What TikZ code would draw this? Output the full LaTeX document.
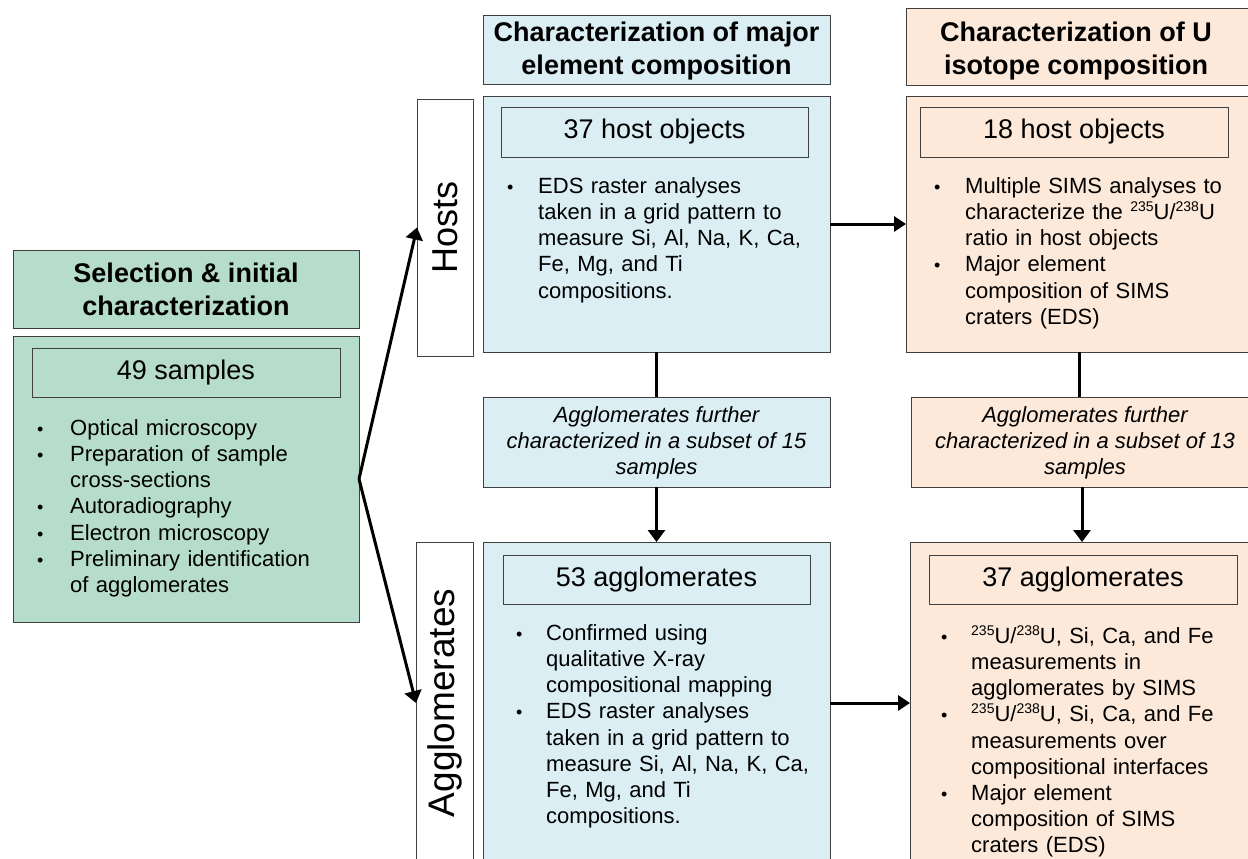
\documentclass[tikz,border=0pt]{standalone}
\usepackage{fontspec}
\setmainfont{Liberation Sans}
\usetikzlibrary{arrows.meta,fit}
\definecolor{grn}{HTML}{B6DCCB}
\definecolor{blu}{HTML}{DAEEF3}
\definecolor{pch}{HTML}{FDE9D9}
\definecolor{bord}{HTML}{404040}
\newlength{\bulind}
\newcommand{\bul}[1]{\par\noindent\hangindent=\bulind\hangafter=1\makebox[\bulind][l]{\strut{\fontsize{18}{18}\selectfont\textbullet}}#1}
\newcommand{\sups}[1]{\raisebox{0.36em}{\fontsize{14}{14}\selectfont #1}}
\tikzset{
  box/.style={draw=bord, line width=1pt, inner sep=0pt, outer sep=0pt},
  ttl/.style={font=\fontsize{27}{33}\selectfont\bfseries, align=center, inner sep=0pt},
  cnt/.style={font=\fontsize{27}{33}\selectfont, align=center, inner sep=0pt},
  note/.style={font=\fontsize{22}{26.3}\selectfont\itshape, align=center, inner sep=0pt},
  bl/.style={anchor=north west, inner sep=0pt, align=left, font=\fontsize{22}{26.2}\selectfont},
  lab/.style={rotate=90, inner sep=0pt},
  arr/.style={line width=3pt, -{Triangle[length=12pt,width=17pt]}},
  harr/.style={line width=3pt, -{Triangle[length=12pt,width=15pt]}},
  ln/.style={line width=3pt}
}
\begin{document}
\begin{tikzpicture}[x=1pt,y=-1pt]
\clip (0,0) rectangle (1248,859);
\fill[white] (0,0) rectangle (1248,859);
% left column
\node[box, fill=grn, fit={(13,250) (359,328)}] (seltitle) {};
\node[ttl] (seltitletxt) at (seltitle.center) {Selection \& initial\\characterization};
\node[box, fill=grn, fit={(13,336) (359,622)}] (selmain) {};
\node[box, fill=grn, fit={(32,348) (340,397)}] (sel49) {};
\node[cnt] (sel49txt) at (sel49.center) {49 samples};
\node[bl, text width=320pt] (seltxt) at (37,408.8) {\setlength{\bulind}{33pt}%
\bul{Optical microscopy}%
\bul{Preparation of sample\newline cross-sections}%
\bul{Autoradiography}%
\bul{Electron microscopy}%
\bul{Preliminary identification\newline of agglomerates}\par};
% labels
\node[box, fill=white, fit={(417,99) (473,356)}] (hostslab) {};
\node[lab, font=\fontsize{36}{40}\selectfont] (hoststxt) at (hostslab.center) {Hosts};
\node[box, fill=white, fit={(416,542) (473,864)}] (agglab) {};
\node[lab, font=\fontsize{37}{40}\selectfont] (aggtxt) at (agglab.center) {Agglomerates};
% middle column
\node[box, fill=blu, fit={(483,16) (830,85)}] (midtitle) {};
\node[ttl] (midtitletxt) at (656.5,51) {Characterization of major\\element composition};
\node[box, fill=blu, fit={(483,96) (830,352)}] (midhost) {};
\node[box, fill=blu, fit={(501,107) (808,157)}] (mid37) {};
\node[cnt] (mid37txt) at (mid37.center) {37 host objects};
\node[bl, text width=320pt] (midhosttxt) at (507,166.8) {\setlength{\bulind}{31pt}%
\bul{EDS raster analyses\newline taken in a grid pattern to\newline measure Si, Al, Na, K, Ca,\newline Fe, Mg, and Ti\newline compositions.}\par};
\node[box, fill=blu, fit={(483,397) (830,487)}] (midnote) {};
\node[note] (midnotetxt) at (656.5,443) {Agglomerates further\\characterized in a subset of 15\\samples};
\node[box, fill=blu, fit={(483,542) (830,864)}] (midagg) {};
\node[box, fill=blu, fit={(503,555) (810,604)}] (mid53) {};
\node[cnt] (mid53txt) at (mid53.center) {53 agglomerates};
\node[bl, text width=320pt] (midaggtxt) at (516,613.8) {\setlength{\bulind}{30pt}%
\bul{Confirmed using\newline qualitative X-ray\newline compositional mapping}%
\bul{EDS raster analyses\newline taken in a grid pattern to\newline measure Si, Al, Na, K, Ca,\newline Fe, Mg, and Ti\newline compositions.}\par};
% right column
\node[box, fill=pch, fit={(906,9) (1252,86)}] (rtitle) {};
\node[ttl] (rtitletxt) at (1076,51) {Characterization of U\\isotope composition};
\node[box, fill=pch, fit={(906,96) (1252,352)}] (rhost) {};
\node[box, fill=pch, fit={(920,107) (1228,157)}] (r18) {};
\node[cnt] (r18txt) at (r18.center) {18 host objects};
\node[bl, text width=320pt] (rhosttxt) at (934,166.8) {\setlength{\bulind}{31pt}%
\bul{Multiple SIMS analyses to\newline characterize the \sups{235}U/\sups{238}U\newline ratio in host objects}%
\bul{Major element\newline composition of SIMS\newline craters (EDS)}\par};
\node[box, fill=pch, fit={(911,397) (1253,487)}] (rnote) {};
\node[note] (rnotetxt) at (1085,443) {Agglomerates further\\characterized in a subset of 13\\samples};
\node[box, fill=pch, fit={(910,542) (1254,864)}] (ragg) {};
\node[box, fill=pch, fit={(929,555) (1237,604)}] (r37) {};
\node[cnt] (r37txt) at (r37.center) {37 agglomerates};
\node[bl, text width=320pt] (raggtxt) at (941,616.8) {\setlength{\bulind}{30pt}%
\bul{\sups{235}U/\sups{238}U, Si, Ca, and Fe\newline measurements in\newline agglomerates by SIMS}%
\bul{\sups{235}U/\sups{238}U, Si, Ca, and Fe\newline measurements over\newline compositional interfaces}%
\bul{Major element\newline composition of SIMS\newline craters (EDS)}\par};
% connectors
\draw[arr] (selmain.east) -- (hostslab.west);
\draw[arr] (selmain.east) -- (agglab.west);
\draw[harr] (midhost.east) -- (rhost.west);
\draw[harr] (midagg.east) -- (ragg.west);
\draw[ln] (midhost.south) -- (midnote.north);
\draw[arr] (midnote.south) -- (midagg.north);
\draw[ln] (1079,352) coordinate (rtop) -- (rtop |- rnote.north);
\draw[arr] (rnote.south) -- (rnote.south |- ragg.north);
\end{tikzpicture}
\end{document}
